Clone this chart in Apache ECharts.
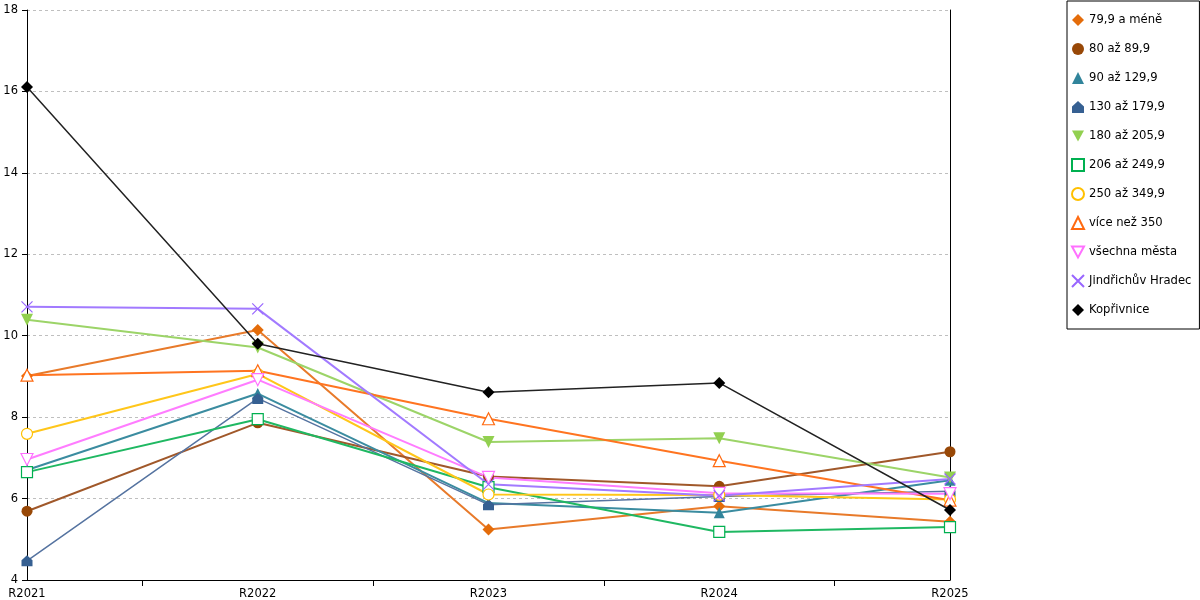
<!DOCTYPE html>
<html>
<head>
<meta charset="utf-8">
<script src="https://cdn.jsdelivr.net/npm/echarts@6/dist/echarts.min.js"></script>
<style>html,body{margin:0;padding:0;background:#fff}#c{width:1200px;height:600px}</style>
</head>
<body>
<div id="c"></div>
<script>
const categories = ['R2021', 'R2022', 'R2023', 'R2024', 'R2025'];
const tickSlots = ['a', 'b', 'c', 'd', 'e', 'f', 'g', 'h', 'i'];
const names = ['79,9 a méně', '80 až 89,9', '90 až 129,9', '130 až 179,9', '180 až 205,9', '206 až 249,9', '250 až 349,9', 'více než 350', 'všechna města', 'Jindřichův Hradec', 'Kopřivnice'];
const s79 = [9.01, 10.14, 5.24, 5.81, 5.43];
const s80 = [5.69, 7.86, 6.54, 6.30, 7.15];
const s90 = [6.70, 8.58, 5.89, 5.65, 6.45];
const s130 = [4.47, 8.46, 5.85, 6.05, 6.18];
const s180 = [10.39, 9.71, 7.39, 7.48, 6.52];
const s206 = [6.65, 7.95, 6.28, 5.18, 5.30];
const s250 = [7.59, 9.06, 6.10, 6.09, 5.98];
const s350 = [9.03, 9.14, 7.96, 6.93, 5.96];
const sAll = [6.96, 8.92, 6.52, 6.13, 6.12];
const sJH = [10.71, 10.66, 6.35, 6.07, 6.48];
const sKop = [16.11, 9.80, 8.61, 8.84, 5.72];
const yTicks = [4, 6, 8, 10, 12, 14, 16, 18];

const seriesValues = [s79, s80, s90, s130, s180, s206, s250, s350, sAll, sJH, sKop];
const colors = ['#E46C0A', '#984807', '#31849B', '#366092', '#92D050', '#00B050', '#FFC000', '#FF6A10', '#FF70FF', '#9966FF', '#000000'];
const lineColors = ['#E87A2A', '#A0582A', '#3B8CA0', '#5573A0', '#9CD468', '#1FB862', '#FFC61A', '#FF7420', '#FF7CFF', '#A27AFF', '#222222'];
const HOUSE = 'path://M5,0L10,4.5L10,10L0,10L0,4.5Z';
const DOWN = 'path://M0,0L10,0L5,9Z';
const CROSS = 'path://M0,0L10,10M10,0L0,10';
const symbols = ['diamond', 'circle', 'triangle', HOUSE, DOWN, 'rect', 'circle', 'triangle', DOWN, CROSS, 'diamond'];
const hollow = [false, false, false, false, false, true, true, true, true, true, false];
const sizes = [12, 11, 11, 11, 12, 11, 11, 12, 12, 11, 12];
const widths = [2, 2, 2, 1.5, 2, 2, 2, 2, 2, 2, 1.5];

const series = names.map((n, i) => {
  const c = colors[i];
  const isCross = symbols[i] === CROSS;
  const itemStyle = hollow[i]
    ? { color: isCross ? 'rgba(0,0,0,0)' : '#ffffff', borderColor: c, borderWidth: 1.2, opacity: 1 }
    : { color: c, borderColor: c, borderWidth: 0 };
  return {
    name: n,
    type: 'line',
    data: seriesValues[i],
    symbol: symbols[i],
    symbolSize: sizes[i],
    showAllSymbol: true,
    lineStyle: { color: lineColors[i], width: widths[i] },
    itemStyle: itemStyle,
    emphasis: { disabled: true },
    z: i === 10 ? 5 : 2,
    animation: false
  };
});

const chart = echarts.init(document.getElementById('c'), null, { renderer: 'canvas' });
chart.setOption({
  animation: false,
  backgroundColor: '#ffffff',
  textStyle: { fontFamily: 'DejaVu Sans' },
  grid: { left: 27, right: 250, top: 10, bottom: 20 },
  legend: {
    orient: 'vertical',
    left: 1067,
    top: 1,
    padding: [11, 8, 11, 4],
    itemGap: 13,
    itemWidth: 12,
    itemHeight: 12,
    itemSymbolKeepAspect: true,
    itemTextGap: 6,
    borderColor: '#000',
    borderWidth: 1,
    textStyle: { fontFamily: 'DejaVu Sans', fontSize: 11.6, color: '#000', lineHeight: 16 },
    data: names.map((n, i) => ({ name: n, icon: symbols[i] }))
  },
  xAxis: [
    {
      type: 'category',
      data: categories,
      boundaryGap: false,
      axisLine: { show: true, lineStyle: { color: '#000', width: 1 } },
      axisTick: { show: false },
      axisLabel: { color: '#000', fontSize: 11.5, margin: 8, fontFamily: 'DejaVu Sans' },
      splitLine: { show: false }
    },
    {
      type: 'category',
      data: tickSlots,
      boundaryGap: false,
      position: 'bottom',
      axisLine: { show: false },
      axisTick: { show: true, length: 6, interval: (idx) => idx % 2 === 1, lineStyle: { color: '#000' } },
      axisLabel: { show: false },
      splitLine: { show: false }
    }
  ],
  yAxis: [
    {
      type: 'value',
      min: 4,
      max: 18,
      interval: 2,
      axisLine: { show: true, lineStyle: { color: '#000', width: 1 } },
      axisTick: { show: true, length: 5, lineStyle: { color: '#000' } },
      axisLabel: { color: '#000', fontSize: 11.5, margin: 9, fontFamily: 'DejaVu Sans',
        formatter: (v) => yTicks.includes(v) ? String(v) : '' },
      splitLine: { show: true, lineStyle: { color: '#bfbfbf', type: [3, 3], width: 1 } }
    },
    {
      type: 'value',
      min: 4,
      max: 18,
      interval: 2,
      position: 'right',
      axisLine: { show: true, lineStyle: { color: '#000', width: 1 } },
      axisTick: { show: false },
      axisLabel: { show: false },
      splitLine: { show: false }
    }
  ],
  series: series
});
</script>
</body>
</html>
